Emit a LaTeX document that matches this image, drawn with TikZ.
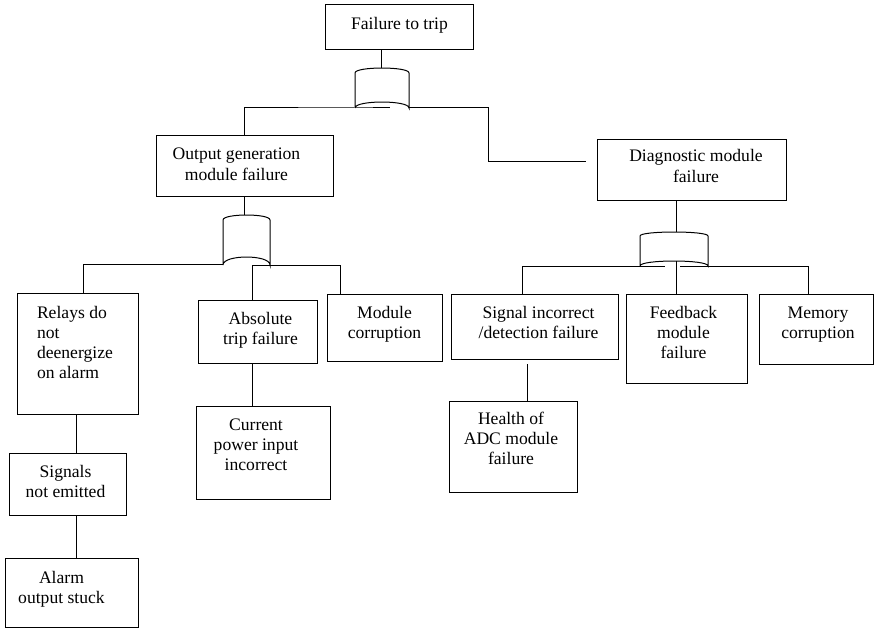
\documentclass[tikz,border=0pt]{standalone}
\usepackage{fontspec}
\setmainfont{Liberation Serif}
\usetikzlibrary{calc}
\setlength\parindent{0pt}

% centred cell: width, height, first baseline, horizontal shift, lines
\newcommand\cell[5]{\parbox[t][#2][t]{#1}{%
  \leftskip=0pt plus 1fil\advance\leftskip by #4\relax
  \rightskip=0pt plus 1fil\advance\rightskip by -#4\relax
  \parfillskip=0pt\rule{0pt}{#3}#5\par}}
% left-aligned cell: width, height, first baseline, left pad, lines
\newcommand\leftcell[5]{\parbox[t][#2][t]{#1}{%
  \leftskip=#4\rightskip=0pt plus 1fil
  \parfillskip=0pt plus 1fil\rule{0pt}{#3}#5\par}}
% OR gate: left, right, top of sides, bottom, top bulge, bottom bulge
\newcommand\orgate[6]{%
  \draw[conn] (#1,#4) -- (#1,#3)
    .. controls (#1,#3-#5*1.33) and (#2,#3-#5*1.33) .. (#2,#3) -- (#2,#4)
    .. controls (#2,#4-#6*1.33) and (#1,#4-#6*1.33) .. (#1,#4);}

\tikzset{
  box/.style={draw, line width=1pt, inner sep=0pt, outer sep=0pt,
    anchor=north west, font=\fontsize{17.6}{20.3}\selectfont},
  conn/.style={line width=1pt}
}

\begin{document}
\begin{tikzpicture}[x=1pt, y=-1pt]
\useasboundingbox (0,0) rectangle (874,628);
\fill[white] (0,0) rectangle (874,628);

% events
\node[box] (top)  at (325,5)   {\cell{148pt}{45pt}{24.5pt}{0.5pt}{Failure to trip}};
\node[box] (ogm)  at (156,136) {\cell{177pt}{61pt}{24pt}{-8pt}{Output generation\par module failure}};
\node[box] (dmf)  at (597,140) {\cell{189pt}{61pt}{22pt}{4.5pt}{Diagnostic module\par failure}};
\node[box] (rel)  at (17,293)  {\leftcell{121pt}{121pt}{25pt}{20pt}{Relays do\par not\par deenergize\par on alarm}};
\node[box] (abs)  at (198,300) {\cell{119pt}{63pt}{24pt}{3pt}{Absolute\par trip failure}};
\node[box] (mod)  at (327,294) {\cell{115pt}{67pt}{24pt}{0pt}{Module\par corruption}};
\node[box] (cur)  at (196,406) {\cell{134pt}{93pt}{24pt}{-7pt}{Current\par power input\par incorrect}};
\node[box] (sig)  at (9,453)   {\cell{117pt}{62pt}{24pt}{-2pt}{Signals\par not emitted}};
\node[box] (alm)  at (5,558)   {\cell{133pt}{69pt}{25pt}{-10pt}{Alarm\par output stuck}};
\node[box] (sinc) at (451,294) {\cell{167pt}{65pt}{24pt}{4pt}{Signal incorrect\par /detection failure}};
\node[box] (fdb)  at (626,294) {\cell{121pt}{89pt}{24pt}{-3pt}{Feedback\par module\par failure}};
\node[box] (mem)  at (759,294) {\cell{114pt}{70pt}{24pt}{2pt}{Memory\par corruption}};
\node[box] (hlt)  at (449,401) {\cell{128pt}{91pt}{23pt}{-2pt}{Health of\par ADC module\par failure}};

% gates
\orgate{355}{409}{73}{108}{5}{6}
\orgate{223}{270}{220}{265}{5}{8}
\orgate{640}{708}{236}{266}{4}{5}

% gate terminals and junctions
\coordinate (g1in) at (381,68);
\coordinate (g1L)  at (355,108);
\coordinate (g1m)  at (390,108);
\coordinate (g1R)  at (409,108);
\coordinate (j1)   at (488,108);
\coordinate (dmfin) at (586,162);
\coordinate (g2in) at (244.5,215);
\coordinate (g2L)  at (223,264);
\coordinate (g2b)  at (252,265);
\coordinate (g3in) at (676,232);
\coordinate (g3a)  at (665,266);
\coordinate (g3b)  at (680,266);
\coordinate (g3c)  at (676,261);
\coordinate (x76)  at (76,0);
\coordinate (x83)  at (83,0);
\coordinate (x340) at (340,0);
\coordinate (x522) at (522,0);
\coordinate (x527) at (527,0);
\coordinate (x808) at (808,0);

% connectors
\draw[conn] (top.south -| g1in) -- (g1in);
\draw[conn] (ogm.north) |- (g1L) -- (g1m);
\draw[conn] (g1R) -- (j1) |- (dmfin);
\draw[conn] (ogm.south -| g2in) -- (g2in);
\draw[conn] (rel.north -| x83) |- (g2L);
\draw[conn] (abs.north -| g2b) -- (g2b) -| (mod.north -| x340);
\draw[conn] (abs.south -| g2b) -- (cur.north -| g2b);
\draw[conn] (rel.south -| x76) -- (sig.north -| x76);
\draw[conn] (sig.south -| x76) -- (alm.north -| x76);
\draw[conn] (dmf.south -| g3in) -- (g3in);
\draw[conn] (sinc.north -| x522) |- (g3a);
\draw[conn] (g3b) -| (mem.north -| x808);
\draw[conn] (g3c) -- (fdb.north -| g3c);
\draw[conn, shorten <=5pt] (sinc.south -| x527) -- (hlt.north -| x527);
\end{tikzpicture}
\end{document}
